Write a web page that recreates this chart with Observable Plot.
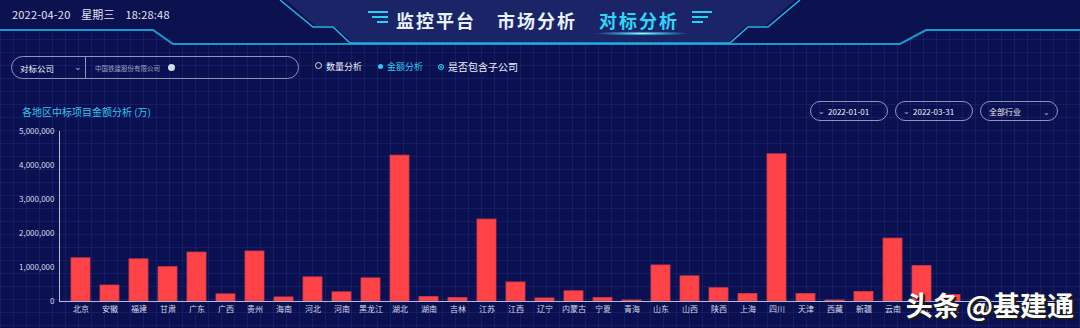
<!DOCTYPE html>
<html><head><meta charset="utf-8">
<script src="https://cdn.jsdelivr.net/npm/d3@7"></script>
<script src="https://cdn.jsdelivr.net/npm/@observablehq/plot@0.6"></script>
<style>
body{margin:0;width:1080px;height:328px;overflow:hidden;background:#0b1150;font-family:"Noto Sans CJK SC","Noto Sans",sans-serif;}
#page{position:relative;width:1080px;height:328px;background-color:#0b1150;
background-image:linear-gradient(rgba(48,70,175,.22) 1px,transparent 1px),linear-gradient(90deg,rgba(48,70,175,.22) 1px,transparent 1px);background-size:13px 13px;overflow:hidden;}
.abs{position:absolute;white-space:nowrap;}
#deco{position:absolute;left:0;top:0;}
#date{left:12px;top:6px;font-size:11px;color:#e2e6f6;letter-spacing:.2px;}
.tt{top:7px;font-size:18px;font-weight:bold;letter-spacing:2px;}
.pill{position:absolute;border:1px solid #8e95bd;border-radius:12px;box-sizing:border-box;color:#eef0fa;font-size:8px;}
.radio{top:60px;font-size:9px;color:#eef0fa;}
#ctitle{left:22px;top:104px;font-size:10px;color:#2fc3ea;}
#chart{position:absolute;left:0;top:120px;}
#wm{right:6px;top:285px;font-size:27px;font-weight:bold;color:#fff;text-shadow:2px 2px 1px #1a1a1a,1px 1px 0 #444;}
</style></head><body>
<div id="page">
<svg id="deco" width="1080" height="50">
  <defs><radialGradient id="glow"><stop offset="0" stop-color="#bff6ff" stop-opacity="1"/><stop offset=".5" stop-color="#45d8f8" stop-opacity=".6"/><stop offset="1" stop-color="#45d8f8" stop-opacity="0"/></radialGradient></defs>
  <rect x="0" y="0" width="1080" height="30" fill="#0c1250"/>
  <polygon points="0,0 280,0 313,27 333,27 350,44 730,44 748,27 768,27 800,0 1080,0 1080,30 926,30 900,44 173,44 153,30 0,30" fill="#0c1250"/>
  <polygon points="286,0 316,26 335,26 352,42 728,42 746,26 765,26 795,0" fill="#1b2466"/>
  <polyline points="0,30 153,30 173,44 900,44 926,30 1080,30" fill="none" stroke="#1aa8d8" stroke-width="2" opacity=".9"/>
  <polyline points="280,0 313,27 333,27 350,43 730,43 748,27 768,27 800,0" fill="none" stroke="#22b5e4" stroke-width="1.5"/>
  <g stroke="#2ad0f2" stroke-width="2">
    <line x1="368" y1="12" x2="388" y2="12"/><line x1="372" y1="17" x2="388" y2="17"/><line x1="377" y1="22" x2="388" y2="22"/>
    <line x1="692" y1="12" x2="712" y2="12"/><line x1="692" y1="17" x2="708" y2="17"/><line x1="692" y1="22" x2="703" y2="22"/>
  </g>
  <ellipse cx="642" cy="33.5" rx="48" ry="2.2" fill="url(#glow)"/>
</svg>
<div id="date" class="abs">2022-04-20&nbsp;&nbsp;&nbsp;&nbsp;星期三&nbsp;&nbsp;&nbsp;&nbsp;18:28:48</div>
<div class="abs tt" style="left:396px;color:#e8f2ff">监控平台</div>
<div class="abs tt" style="left:497px;color:#e8f2ff">市场分析</div>
<div class="abs tt" style="left:599px;color:#2cd6f7">对标分析</div>

<div class="pill" style="left:11px;top:56px;width:288px;height:23px;">
  <span class="abs" style="left:8px;top:5px;font-size:8.5px;">对标公司</span>
  <span class="abs" style="left:62px;top:3px;font-size:9px;color:#aab0d0">⌄</span>
  <span class="abs" style="left:73px;top:0;width:1px;height:21px;background:#8e95bd"></span>
  <span class="abs" style="left:83px;top:6px;font-size:6.5px;color:#9aa0c4">中国铁建股份有限公司</span>
  <span class="abs" style="left:156px;top:7px;width:7px;height:7px;border-radius:50%;background:#d8dbe8"></span>
</div>
<div class="abs radio" style="left:315px;"><span style="display:inline-block;width:5px;height:5px;border:1px solid #ddd;border-radius:50%;margin-right:4px;vertical-align:1px"></span>数量分析</div>
<div class="abs radio" style="left:378px;color:#2cc8ef"><span style="display:inline-block;width:5px;height:5px;background:#2cc8ef;border-radius:50%;margin-right:4px;vertical-align:1px"></span>金额分析</div>
<div class="abs radio" style="left:438px;font-size:10px;top:59px"><span style="display:inline-block;width:4px;height:4px;background:#2cc8ef;border:1.5px solid #2cc8ef;box-shadow:inset 0 0 0 1px #0b1150;border-radius:50%;margin-right:4px;vertical-align:1px"></span>是否包含子公司</div>

<div id="ctitle" class="abs">各地区中标项目金额分析 (万)</div>
<div class="pill" style="left:810px;top:101px;width:78px;height:20px;"><span class="abs" style="left:7px;top:3px;color:#bbb">⌄</span><span class="abs" style="left:17px;top:4px">2022-01-01</span></div>
<div class="pill" style="left:895px;top:101px;width:78px;height:20px;"><span class="abs" style="left:7px;top:3px;color:#bbb">⌄</span><span class="abs" style="left:17px;top:4px">2022-03-31</span></div>
<div class="pill" style="left:980px;top:101px;width:78px;height:20px;"><span class="abs" style="left:8px;top:4px">全部行业</span><span class="abs" style="left:62px;top:4px;color:#bbb">⌄</span></div>

<div id="chart"></div>
<div id="wm" class="abs">头条 @基建通</div>
</div>
<script>
const regions = ["北京","安徽","福建","甘肃","广东","广西","贵州","海南","河北","河南","黑龙江","湖北","湖南","吉林","江苏","江西","辽宁","内蒙古","宁夏","青海","山东","山西","陕西","上海","四川","天津","西藏","新疆","云南","浙江","重庆","香港","澳门","台湾"];
const amounts = [1270000,470000,1240000,1010000,1440000,210000,1470000,120000,710000,270000,680000,4290000,130000,100000,2410000,560000,90000,300000,100000,30000,1060000,740000,390000,220000,4330000,220000,30000,280000,1850000,1040000,190000,0,0,0];
const yTicks = [0,1000000,2000000,3000000,4000000,5000000];

const data = regions.map((r,i)=>({region:r, amount:amounts[i]}));
const chart = Plot.plot({
  width:1080, height:200,
  marginLeft:59, marginRight:21, marginTop:11, marginBottom:19,
  style:{background:"transparent", color:"#d6d9ea", fontFamily:"'Noto Sans CJK SC',sans-serif", fontSize:"8px"},
  x:{domain:regions, padding:0.34, label:null},
  y:{domain:[0,5000000], label:null},
  marks:[
    Plot.barY(data,{x:"region", y:"amount", fill:"#ff4346", stroke:"#d8394a", strokeWidth:0.8}),
    Plot.axisY({ticks:yTicks, tickFormat:d3.format(","), tickSize:0, tickPadding:5, fill:"#d6d9ea", fontSize:8, label:null}),
    Plot.axisX({tickSize:0, tickPadding:5, fill:"#d6d9ea", fontSize:8, label:null}),
    Plot.frame({anchor:"left", stroke:"#b8bcd4", strokeWidth:1}),
    Plot.ruleY([0],{stroke:"#b8bcd4", strokeWidth:1.2})
  ]
});
document.getElementById("chart").appendChild(chart);
</script>
</body></html>
